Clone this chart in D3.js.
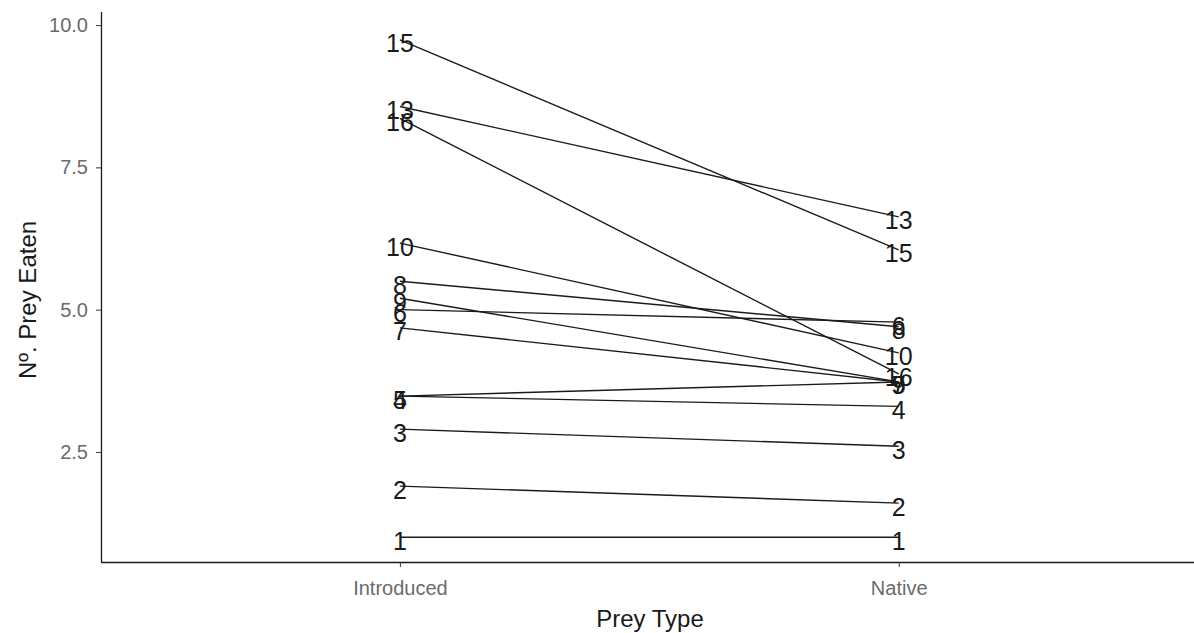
<!DOCTYPE html>
<html>
<head>
    <title>Prey Eaten</title>
    <style>
        body { margin: 0; background: #fff; }
        text { font-family: "Liberation Sans", Arial, sans-serif; }
    </style>
    <script src="https://d3js.org/d3.v7.min.js"></script>
</head>
<body>
    <div id="chart"></div>
    <script>
// data
var subjects   = ['1', '2', '3', '4', '5', '6', '7', '8', '9', '10', '13', '15', '16'];
var introduced = [1.0, 1.9, 2.9, 3.48, 3.48, 5.0, 4.68, 5.5, 5.2, 6.17, 8.57, 9.74, 8.36];
var native     = [1.0, 1.6, 2.6, 3.3, 3.73, 4.78, 3.73, 4.7, 3.73, 4.24, 6.63, 6.05, 3.87];
var preyTypes  = ['Introduced', 'Native'];
var yTicks     = [2.5, 5.0, 7.5, 10.0];

var width = 1194, height = 633;
var tickFont = '"Liberation Sans", Arial, sans-serif';

var svg = d3.select('#chart').append('svg')
    .attr('width', width)
    .attr('height', height);

var x = d3.scaleLinear().domain([0.4, 2.6]).range([100.6, 1198]);
var y = d3.scaleLinear().domain([0.566, 10.23]).range([562, 12]);

var rows = subjects.map(function(s, i) {
    return { id: s, vals: [introduced[i], native[i]] };
});

// lines
svg.append('g').selectAll('line')
    .data(rows)
    .enter()
    .append('line')
    .attr('x1', x(1))
    .attr('x2', x(2))
    .attr('y1', function(d) { return y(d.vals[0]); })
    .attr('y2', function(d) { return y(d.vals[1]); })
    .attr('stroke', '#1a1a1a')
    .attr('stroke-width', 1.4);

// labels at both ends
var labels = svg.append('g');
preyTypes.forEach(function(p, k) {
    labels.selectAll('text.l' + k)
        .data(rows)
        .enter()
        .append('text')
        .attr('class', 'l' + k)
        .attr('x', x(k + 1))
        .attr('y', function(d) { return y(d.vals[k]) + 12.5; })
        .attr('text-anchor', 'middle')
        .attr('font-size', 25)
        .attr('fill', '#1a1a1a')
        .text(function(d) { return d.id; });
});

// y axis
var yAxis = d3.axisLeft(y).tickValues(yTicks).tickFormat(d3.format('.1f')).tickSize(5).tickPadding(8);
var gy = svg.append('g').attr('transform', 'translate(101,0)').call(yAxis);
gy.select('.domain').attr('d', 'M0.5,12V562.5').attr('stroke', '#1a1a1a').attr('stroke-width', 1.3);
gy.selectAll('.tick line').attr('stroke', '#333');
gy.selectAll('.tick text').attr('font-size', 20).attr('fill', '#6b6b6b')
    .attr('font-family', tickFont);

// x axis
var xAxis = d3.axisBottom(x).tickValues([1, 2]).tickFormat(function(d) { return preyTypes[d - 1]; })
    .tickSize(5).tickPadding(14);
var gx = svg.append('g').attr('transform', 'translate(0,562)').call(xAxis);
gx.select('.domain').attr('d', 'M101,0.5H1194').attr('stroke', '#1a1a1a').attr('stroke-width', 1.3);
gx.selectAll('.tick line').attr('stroke', '#333');
gx.selectAll('.tick text').attr('font-size', 20).attr('fill', '#6b6b6b')
    .attr('font-family', tickFont);

// axis titles
svg.append('text')
    .attr('x', 650)
    .attr('y', 627)
    .attr('text-anchor', 'middle')
    .attr('font-size', 24)
    .attr('fill', '#1a1a1a')
    .text('Prey Type');

svg.append('text')
    .attr('transform', 'rotate(-90)')
    .attr('x', -300)
    .attr('y', 36)
    .attr('text-anchor', 'middle')
    .attr('font-size', 24)
    .attr('fill', '#1a1a1a')
    .text('Nº. Prey Eaten');
    </script>
</body>
</html>
